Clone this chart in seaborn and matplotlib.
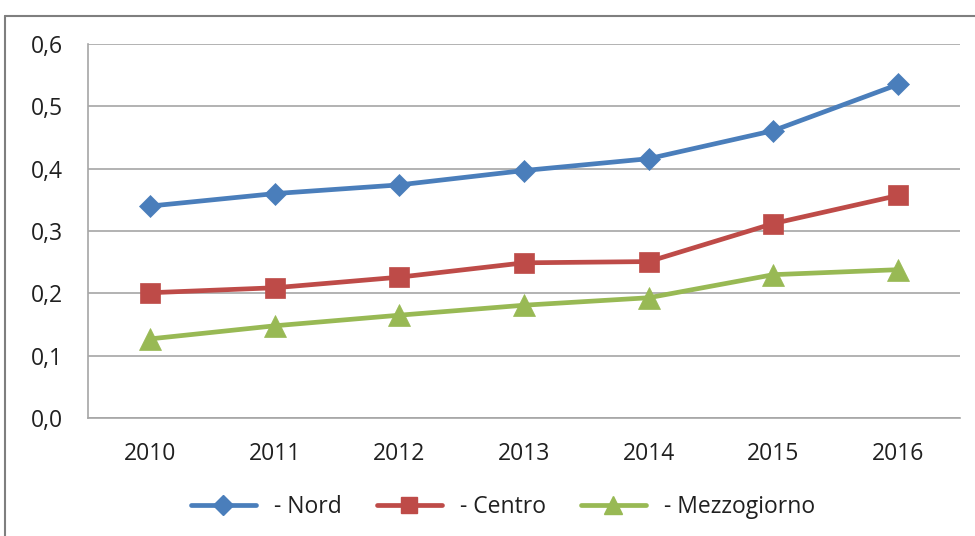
import matplotlib
matplotlib.use("Agg")
import matplotlib.pyplot as plt
from matplotlib.lines import Line2D
from matplotlib.ticker import FixedLocator, FuncFormatter
import seaborn as sns
import pandas as pd

years = ["2010", "2011", "2012", "2013", "2014", "2015", "2016"]
nord = [0.340, 0.360, 0.374, 0.397, 0.416, 0.461, 0.535]
centro = [0.201, 0.209, 0.226, 0.249, 0.251, 0.312, 0.357]
mezzogiorno = [0.127, 0.148, 0.165, 0.181, 0.193, 0.230, 0.238]
series_names = ["- Nord", "- Centro", "- Mezzogiorno"]
colors = ["#4A7EBB", "#BE4B48", "#98B954"]
y_ticks = [0.0, 0.1, 0.2, 0.3, 0.4, 0.5, 0.6]

rows = []
for name, vals in zip(series_names, [nord, centro, mezzogiorno]):
    for i, v in enumerate(vals):
        rows.append({"x": i, "value": v, "serie": name})
df = pd.DataFrame(rows)

sns.set_style("white")
plt.rcParams["font.family"] = ["Open Sans", "DejaVu Sans"]
FS = 16.5

fig = plt.figure(figsize=(9.75, 5.36), dpi=100)
ax = fig.add_axes([0.090, 0.220, 0.895, 0.698])

markers = {"- Nord": "D", "- Centro": "s", "- Mezzogiorno": "^"}
sizes_m = {"- Nord": 11.5, "- Centro": 14, "- Mezzogiorno": 15.5}
for name, col in zip(series_names, colors):
    sub = df[df["serie"] == name]
    sns.lineplot(data=sub, x="x", y="value", ax=ax, color=col, linewidth=3.4,
                 marker=markers[name], markersize=sizes_m[name],
                 markeredgecolor=col, markeredgewidth=0.5, label=name, legend=False)

ax.set_xlim(-0.5, len(years) - 0.5)
ax.set_ylim(0, 0.6)
ax.set_xlabel("")
ax.set_ylabel("")

ax.yaxis.set_major_locator(FixedLocator(y_ticks))
ax.yaxis.set_major_formatter(FuncFormatter(lambda v, p: f"{v:.1f}".replace(".", ",")))
ax.grid(axis="y", color="#A6A6A6", linewidth=1.2)
ax.set_axisbelow(True)

ax.set_xticks([i - 0.5 for i in range(len(years) + 1)])
ax.set_xticklabels([])
ax.set_xticks(range(len(years)), minor=True)
ax.set_xticklabels(years, minor=True)
ax.tick_params(axis="x", which="major", length=7, color="#A6A6A6", direction="out")
ax.tick_params(axis="x", which="minor", length=0, pad=17, labelsize=FS, labelcolor="#202020")
ax.tick_params(axis="y", length=7, color="#A6A6A6", direction="out", pad=11,
               labelsize=FS, labelcolor="#202020")

for s in ["top", "right"]:
    ax.spines[s].set_visible(False)
for s in ["left", "bottom"]:
    ax.spines[s].set_color("#A6A6A6")
    ax.spines[s].set_linewidth(1.2)

handles = [Line2D([0], [0], color=c, linewidth=3.4, marker=markers[n],
                  markersize=sizes_m[n] * 0.85, markeredgecolor=c)
           for n, c in zip(series_names, colors)]
fig.legend(handles, series_names, loc="center", bbox_to_anchor=(0.516, 0.054),
           ncol=3, frameon=False, fontsize=FS, handlelength=2.85,
           columnspacing=1.5, handletextpad=0.8, labelcolor="#202020")

# outer chart frame (left and top edges visible)
fig.add_artist(Line2D([5 / 975, 5 / 975], [0, 1 - 16 / 536], transform=fig.transFigure,
                      color="#7F7F7F", linewidth=1.5))
fig.add_artist(Line2D([5 / 975, 1], [1 - 16 / 536, 1 - 16 / 536], transform=fig.transFigure,
                      color="#7F7F7F", linewidth=1.5))

fig.savefig("out.png", dpi=100)
